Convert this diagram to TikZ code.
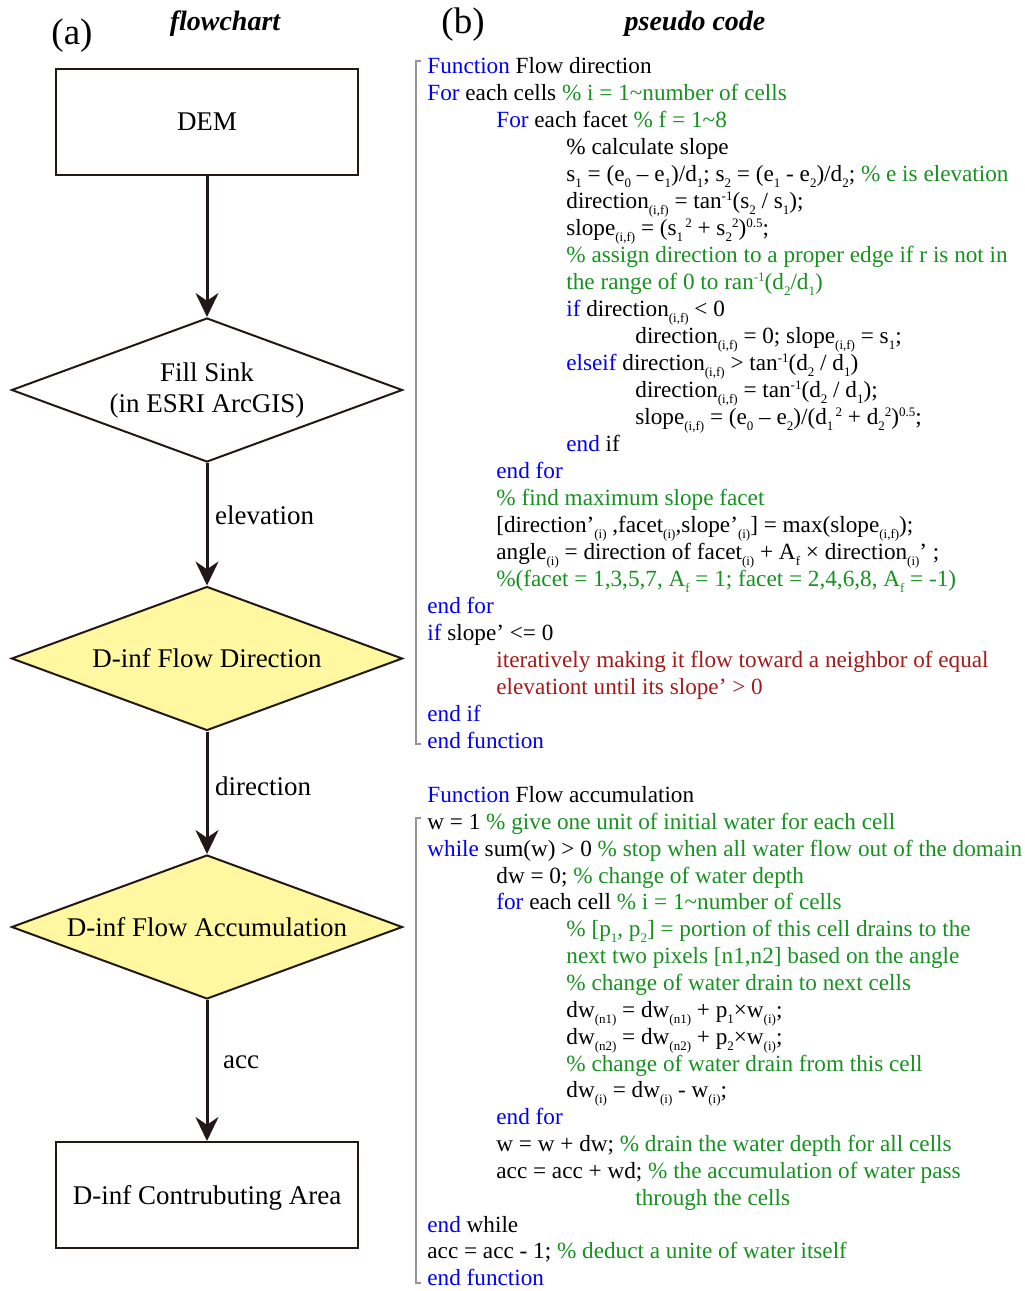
\documentclass[tikz,border=0pt]{standalone}
\usepackage{fontspec}
\setmainfont{Liberation Serif}
\usepackage{tikz}
\usepackage{xcolor}
\usetikzlibrary{shapes.geometric,arrows.meta,positioning}

\definecolor{kwblue}{RGB}{0,0,245}
\definecolor{cmgreen}{RGB}{22,145,32}
\definecolor{warnred}{RGB}{165,25,25}
\definecolor{boxyellow}{RGB}{255,248,160}
\definecolor{bracegray}{RGB}{150,150,150}
\definecolor{ink}{RGB}{35,24,21}

\newcommand{\kwd}[1]{\textcolor{kwblue}{#1}}
\newcommand{\cmt}[1]{\textcolor{cmgreen}{#1}}
\newcommand{\alrt}[1]{\textcolor{warnred}{#1}}
\newcommand{\lo}[1]{\raisebox{-3pt}{\fontsize{6.5}{7}\selectfont #1}}
\newcommand{\hi}[1]{\raisebox{3.6pt}{\fontsize{6.5}{7}\selectfont #1}}
\newcommand{\codefont}{\fontsize{11.6}{14}\selectfont}
\newcommand{\chartfont}{\fontsize{13.5}{15.5}\selectfont}

\begin{document}
\begin{tikzpicture}[x=0.5pt,y=-0.5pt]
  \tikzstyle{box}=[rectangle, draw=ink, line width=1pt, minimum width=151pt, minimum height=53pt, font=\chartfont]
  \tikzstyle{decision}=[diamond, draw=ink, line width=1pt, minimum width=195.5pt, minimum height=72pt, aspect=2.7, inner sep=0pt, font=\chartfont, align=center]
  \tikzstyle{hot}=[fill=boxyellow]
  \tikzstyle{flow}=[-{Stealth[length=12pt,width=11.5pt]}, draw=ink, line width=1.5pt]
  \tikzstyle{lbl}=[right, font=\chartfont]
  \tikzstyle{code}=[anchor=base west, inner sep=0pt, font=\codefont]
  \tikzstyle{brace}=[draw=bracegray, line width=0.6pt]

  \useasboundingbox (0,0) rectangle (1024,1291);

  % Titles
  \node[font=\fontsize{18.5}{20}\selectfont] (pa) at (72,36) {(a)};
  \node[font=\fontsize{14}{16}\selectfont\bfseries\itshape] (ta) at (225,24) {flowchart};
  \node[font=\fontsize{18.5}{20}\selectfont] (pb) at (463,25) {(b)};
  \node[font=\fontsize{14}{16}\selectfont\bfseries\itshape] (tb) at (695,24) {pseudo code};

  % Flowchart
  \node[box] (dem) at (207,122) {DEM};
  \node[decision] (sink) at (207,390) {Fill Sink\\(in ESRI ArcGIS)};
  \node[decision, hot] (fdir) at (207,658.5) {D-inf Flow Direction};
  \node[decision, hot] (facc) at (207,927) {D-inf Flow Accumulation};
  \node[box, text depth=0pt] (area) at (207,1195) {D-inf Contrubuting Area};

  % Conexiones
  \draw[flow] (dem) -- (sink);
  \draw[flow] (sink) -- node[lbl, pos=0.43] (elev) {elevation} (fdir);
  \draw[flow] (fdir) -- node[lbl, pos=0.45] (dirl) {direction} (facc);
  \draw[flow] (facc) -- node[lbl, pos=0.44, xshift=4pt] (accl) {acc} (area);

  % Pseudo code: flow direction
  \draw[brace] (421,61) -- (416,61) -- (416,744) -- (421,744);
  \node[code] (fd1) at (427,73) {\kwd{Function} Flow direction};
  \node[code] (fd2) at (427,100) {\kwd{For} each cells \cmt{\% i = 1\textasciitilde number of cells}};
  \node[code] (fd3) at (496,127) {\kwd{For} each facet \cmt{\% f = 1\textasciitilde 8}};
  \node[code] (fd4) at (566,154) {\% calculate slope};
  \node[code] (fd5) at (566,181) {s\lo{1} = (e\lo{0} – e\lo{1})/d\lo{1}; s\lo{2} = (e\lo{1} - e\lo{2})/d\lo{2}; \cmt{\% e is elevation}};
  \node[code] (fd6) at (566,208) {direction\lo{(i,f)} = tan\hi{-1}(s\lo{2} / s\lo{1});};
  \node[code] (fd7) at (566,235) {slope\lo{(i,f)} = (s\lo{1}\hi{\,2} + s\lo{2}\hi{2})\hi{0.5};};
  \node[code] (fd8) at (566,262) {\cmt{\% assign direction to a proper edge if r is not in}};
  \node[code] (fd9) at (566,289) {\cmt{the range of 0 to ran\hi{-1}(d\lo{2}/d\lo{1})}};
  \node[code] (fd10) at (566,316) {\kwd{if} direction\lo{(i,f)} < 0};
  \node[code] (fd11) at (635,343) {direction\lo{(i,f)} = 0; slope\lo{(i,f)} = s\lo{1};};
  \node[code] (fd12) at (566,370) {\kwd{elseif} direction\lo{(i,f)} > tan\hi{-1}(d\lo{2} / d\lo{1})};
  \node[code] (fd13) at (635,397) {direction\lo{(i,f)} = tan\hi{-1}(d\lo{2} / d\lo{1});};
  \node[code] (fd14) at (635,424) {slope\lo{(i,f)} = (e\lo{0} – e\lo{2})/(d\lo{1}\hi{\,2} + d\lo{2}\hi{2})\hi{0.5};};
  \node[code] (fd15) at (566,451) {\kwd{end} if};
  \node[code] (fd16) at (496,478) {\kwd{end for}};
  \node[code] (fd17) at (496,505) {\cmt{\% find maximum slope facet}};
  \node[code] (fd18) at (496,532) {[direction'\lo{(i)} ,facet\lo{(i)},slope'\lo{(i)}] = max(slope\lo{(i,f)});};
  \node[code] (fd19) at (496,559) {angle\lo{(i)} = direction of facet\lo{(i)} + A\lo{f} × direction\lo{(i)}' ;};
  \node[code] (fd20) at (496,586) {\cmt{\%(facet = 1,3,5,7, A\lo{f} = 1; facet = 2,4,6,8, A\lo{f} = -1)}};
  \node[code] (fd21) at (427,613) {\kwd{end for}};
  \node[code] (fd22) at (427,640) {\kwd{if} slope' <= 0};
  \node[code] (fd23) at (496,667) {\alrt{iteratively making it flow toward a neighbor of equal}};
  \node[code] (fd24) at (496,694) {\alrt{elevationt until its slope' > 0}};
  \node[code] (fd25) at (427,721) {\kwd{end if}};
  \node[code] (fd26) at (427,748) {\kwd{end function}};

  % Pseudo code: flow accumulation
  \draw[brace] (421,818) -- (416,818) -- (416,1283) -- (421,1283);
  \node[code] (fa1) at (427,802) {\kwd{Function} Flow accumulation};
  \node[code] (fa2) at (427,829) {w = 1 \cmt{\% give one unit of initial water for each cell}};
  \node[code] (fa3) at (427,856) {\kwd{while} sum(w) > 0 \cmt{\% stop when all water flow out of the domain}};
  \node[code] (fa4) at (496,883) {dw = 0; \cmt{\% change of water depth}};
  \node[code] (fa5) at (496,909) {\kwd{for} each cell \cmt{\% i = 1\textasciitilde number of cells}};
  \node[code] (fa6) at (566,936) {\cmt{\% [p\lo{1}, p\lo{2}] = portion of this cell drains to the}};
  \node[code] (fa7) at (566,963) {\cmt{next two pixels [n1,n2] based on the angle}};
  \node[code] (fa8) at (566,990) {\cmt{\% change of water drain to next cells}};
  \node[code] (fa9) at (566,1017) {dw\lo{(n1)} = dw\lo{(n1)} + p\lo{1}×w\lo{(i)};};
  \node[code] (fa10) at (566,1044) {dw\lo{(n2)} = dw\lo{(n2)} + p\lo{2}×w\lo{(i)};};
  \node[code] (fa11) at (566,1071) {\cmt{\% change of water drain from this cell}};
  \node[code] (fa12) at (566,1097) {dw\lo{(i)} = dw\lo{(i)} - w\lo{(i)};};
  \node[code] (fa13) at (496,1124) {\kwd{end for}};
  \node[code] (fa14) at (496,1151) {w = w + dw; \cmt{\% drain the water depth for all cells}};
  \node[code] (fa15) at (496,1178) {acc = acc + wd; \cmt{\% the accumulation of water pass}};
  \node[code] (fa16) at (635,1205) {\cmt{through the cells}};
  \node[code] (fa17) at (427,1232) {\kwd{end} while};
  \node[code] (fa18) at (427,1258) {acc = acc - 1; \cmt{\% deduct a unite of water itself}};
  \node[code] (fa19) at (427,1285) {\kwd{end function}};
\end{tikzpicture}
\end{document}
